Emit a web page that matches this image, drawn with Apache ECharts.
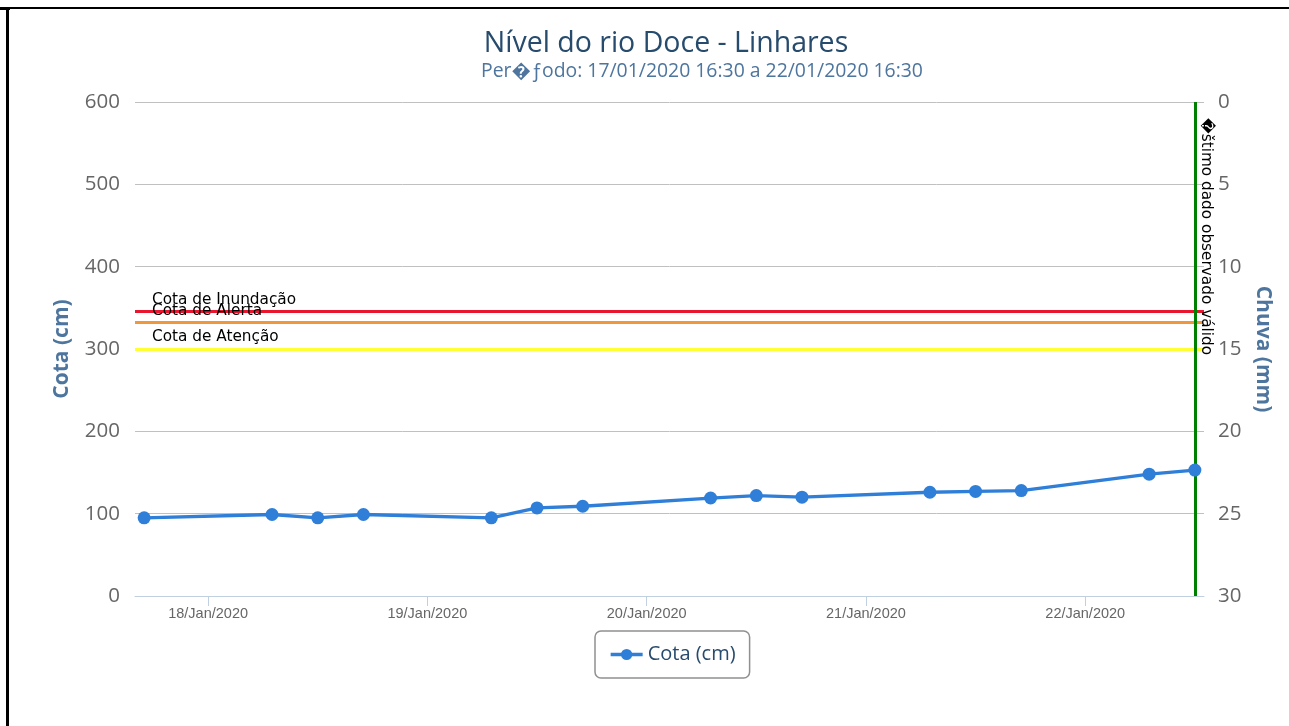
<!DOCTYPE html>
<html>
<head>
<meta charset="utf-8">
<title>Nível do rio Doce - Linhares</title>
<script src="https://cdn.jsdelivr.net/npm/echarts@6/dist/echarts.min.js"></script>
<style>
    body { margin: 0; background: #fff; }
    #chart { position: absolute; left: 0; top: 0; width: 1289px; height: 726px; }
    .borda { position: absolute; background: #000; pointer-events: none; }
</style>
</head>
<body>
<div id="chart"></div>
<div class="borda" style="left:0;top:7px;width:10px;height:3px"></div>
<div class="borda" style="left:6px;top:7px;width:1283px;height:2px"></div>
<div class="borda" style="left:6px;top:7px;width:2.5px;height:719px"></div>
<script>
// dados
const horarios = [
    '2020-01-17 17:00',
    '2020-01-18 07:00', '2020-01-18 12:00', '2020-01-18 17:00',
    '2020-01-19 07:00', '2020-01-19 12:00', '2020-01-19 17:00',
    '2020-01-20 07:00', '2020-01-20 12:00', '2020-01-20 17:00',
    '2020-01-21 07:00', '2020-01-21 12:00', '2020-01-21 17:00',
    '2020-01-22 07:00', '2020-01-22 12:00'
];
const cota = [95, 99, 95, 99, 95, 107, 109, 119, 122, 120, 126, 127, 128, 148, 153];

// cotas de referência
const nomesCotas = ['Cota de Inundação', 'Cota de Alerta', 'Cota de Atenção'];
const valoresCotas = [346, 332, 300];

// limites dos eixos
const inicioEixo = '2020-01-17 16:00';
const fimEixo = '2020-01-22 13:00';
const cotaMin = 0, cotaMax = 600, cotaPasso = 100;
const chuvaMin = 0, chuvaMax = 30, chuvaPasso = 5;

const meses = ['Jan', 'Feb', 'Mar', 'Apr', 'May', 'Jun', 'Jul', 'Aug', 'Sep', 'Oct', 'Nov', 'Dec'];
const coresCotas = ['#e8162e', '#f0963c', '#ffff33'];

function paraTempo(s) {
    const [d, t] = s.split(' ');
    const [y, m, dd] = d.split('-').map(Number);
    const [h, mi] = t.split(':').map(Number);
    return new Date(y, m - 1, dd, h, mi).getTime();
}

function formatarDia(v) {
    const d = new Date(v);
    const dia = String(d.getDate()).padStart(2, '0');
    return dia + '/' + meses[d.getMonth()] + '/' + d.getFullYear();
}

const ultimo = paraTempo(horarios[horarios.length - 1]);

const linhasCotas = nomesCotas.map((nome, i) => ({
    yAxis: valoresCotas[i],
    lineStyle: { color: coresCotas[i], width: 3, type: 'solid' },
    label: {
        show: true,
        formatter: nome,
        position: 'insideStartTop',
        distance: [17, 4],
        color: '#000',
        fontFamily: 'DejaVu Sans',
        fontSize: 15.3
    }
}));

const linhaUltimo = [
    {
        coord: [ultimo, cotaMax],
        lineStyle: { color: '#008000', width: 3, type: 'solid' },
        label: {
            show: true,
            formatter: '\uFFFDštimo dado observado válido',
            position: 'insideStartTop',
            distance: [16, 4],
            color: '#000',
            fontFamily: 'DejaVu Sans',
            fontSize: 15.3
        }
    },
    { coord: [ultimo, cotaMin] }
];

const chart = echarts.init(document.getElementById('chart'));

chart.setOption({
    animation: false,
    backgroundColor: 'transparent',
    title: [
        {
            text: 'Nível do rio Doce - Linhares',
            left: 661,
            textAlign: 'center',
            top: 22,
            textStyle: {
                color: '#274b6d',
                fontFamily: 'Open Sans',
                fontWeight: 'normal',
                fontSize: 28.5,
                lineHeight: 34
            }
        },
        {
            text: 'Per\uFFFD\u0192odo: 17/01/2020 16:30 a 22/01/2020 16:30',
            left: 697,
            textAlign: 'center',
            top: 55,
            textStyle: {
                color: '#4d759e',
                fontFamily: 'Open Sans',
                fontWeight: 'normal',
                fontSize: 19.4,
                lineHeight: 22
            }
        }
    ],
    legend: {
        data: ['Cota (cm)'],
        left: 595,
        top: 631,
        padding: [13, 14],
        borderColor: '#909090',
        borderWidth: 1.5,
        borderRadius: 6,
        itemWidth: 32,
        itemHeight: 14,
        itemGap: 5,
        lineStyle: { width: 3.3 },
        textStyle: {
            color: '#274b6d',
            fontFamily: 'Open Sans',
            fontSize: 20,
            lineHeight: 21
        }
    },
    grid: {
        left: 135,
        right: 85,
        top: 102,
        bottom: 130,
        containLabel: false
    },
    xAxis: {
        type: 'time',
        min: paraTempo(inicioEixo),
        max: paraTempo(fimEixo),
        minInterval: 24 * 3600 * 1000,
        maxInterval: 24 * 3600 * 1000,
        splitLine: { show: false },
        axisLine: { lineStyle: { color: '#C0D0E0', width: 1 } },
        axisTick: { show: true, length: 10, lineStyle: { color: '#C0D0E0' } },
        axisLabel: {
            color: '#666',
            fontFamily: 'Liberation Sans',
            fontSize: 14.5,
            margin: 10,
            formatter: formatarDia
        }
    },
    yAxis: [
        {
            type: 'value',
            min: cotaMin,
            max: cotaMax,
            interval: cotaPasso,
            name: 'Cota (cm)',
            nameLocation: 'middle',
            nameGap: 62,
            nameTextStyle: {
                color: '#4d759e',
                fontFamily: 'Open Sans',
                fontWeight: 'bold',
                fontSize: 21
            },
            axisLine: { show: false },
            axisTick: { show: false },
            splitLine: { lineStyle: { color: '#C0C0C0', width: 1 } },
            axisLabel: {
                color: '#666',
                fontFamily: 'Open Sans',
                fontSize: 20.5,
                margin: 15
            }
        },
        {
            type: 'value',
            position: 'right',
            inverse: true,
            min: chuvaMin,
            max: chuvaMax,
            interval: chuvaPasso,
            name: 'Chuva (mm)',
            nameLocation: 'middle',
            nameRotate: -90,
            nameGap: 48,
            nameTextStyle: {
                color: '#4d759e',
                fontFamily: 'Open Sans',
                fontWeight: 'bold',
                fontSize: 21
            },
            axisLine: { show: false },
            axisTick: { show: false },
            splitLine: { show: false },
            axisLabel: {
                color: '#666',
                fontFamily: 'Open Sans',
                fontSize: 20.5,
                margin: 14
            }
        }
    ],
    series: [
        {
            name: 'Cota (cm)',
            type: 'line',
            yAxisIndex: 0,
            data: horarios.map((h, i) => [paraTempo(h), cota[i]]),
            symbol: 'circle',
            symbolSize: 13,
            showAllSymbol: true,
            itemStyle: { color: '#2f7ed8' },
            lineStyle: { color: '#2f7ed8', width: 3.3 },
            z: 5,
            markLine: {
                silent: true,
                symbol: ['none', 'none'],
                data: linhasCotas.concat([linhaUltimo])
            }
        }
    ]
});
</script>
</body>
</html>
